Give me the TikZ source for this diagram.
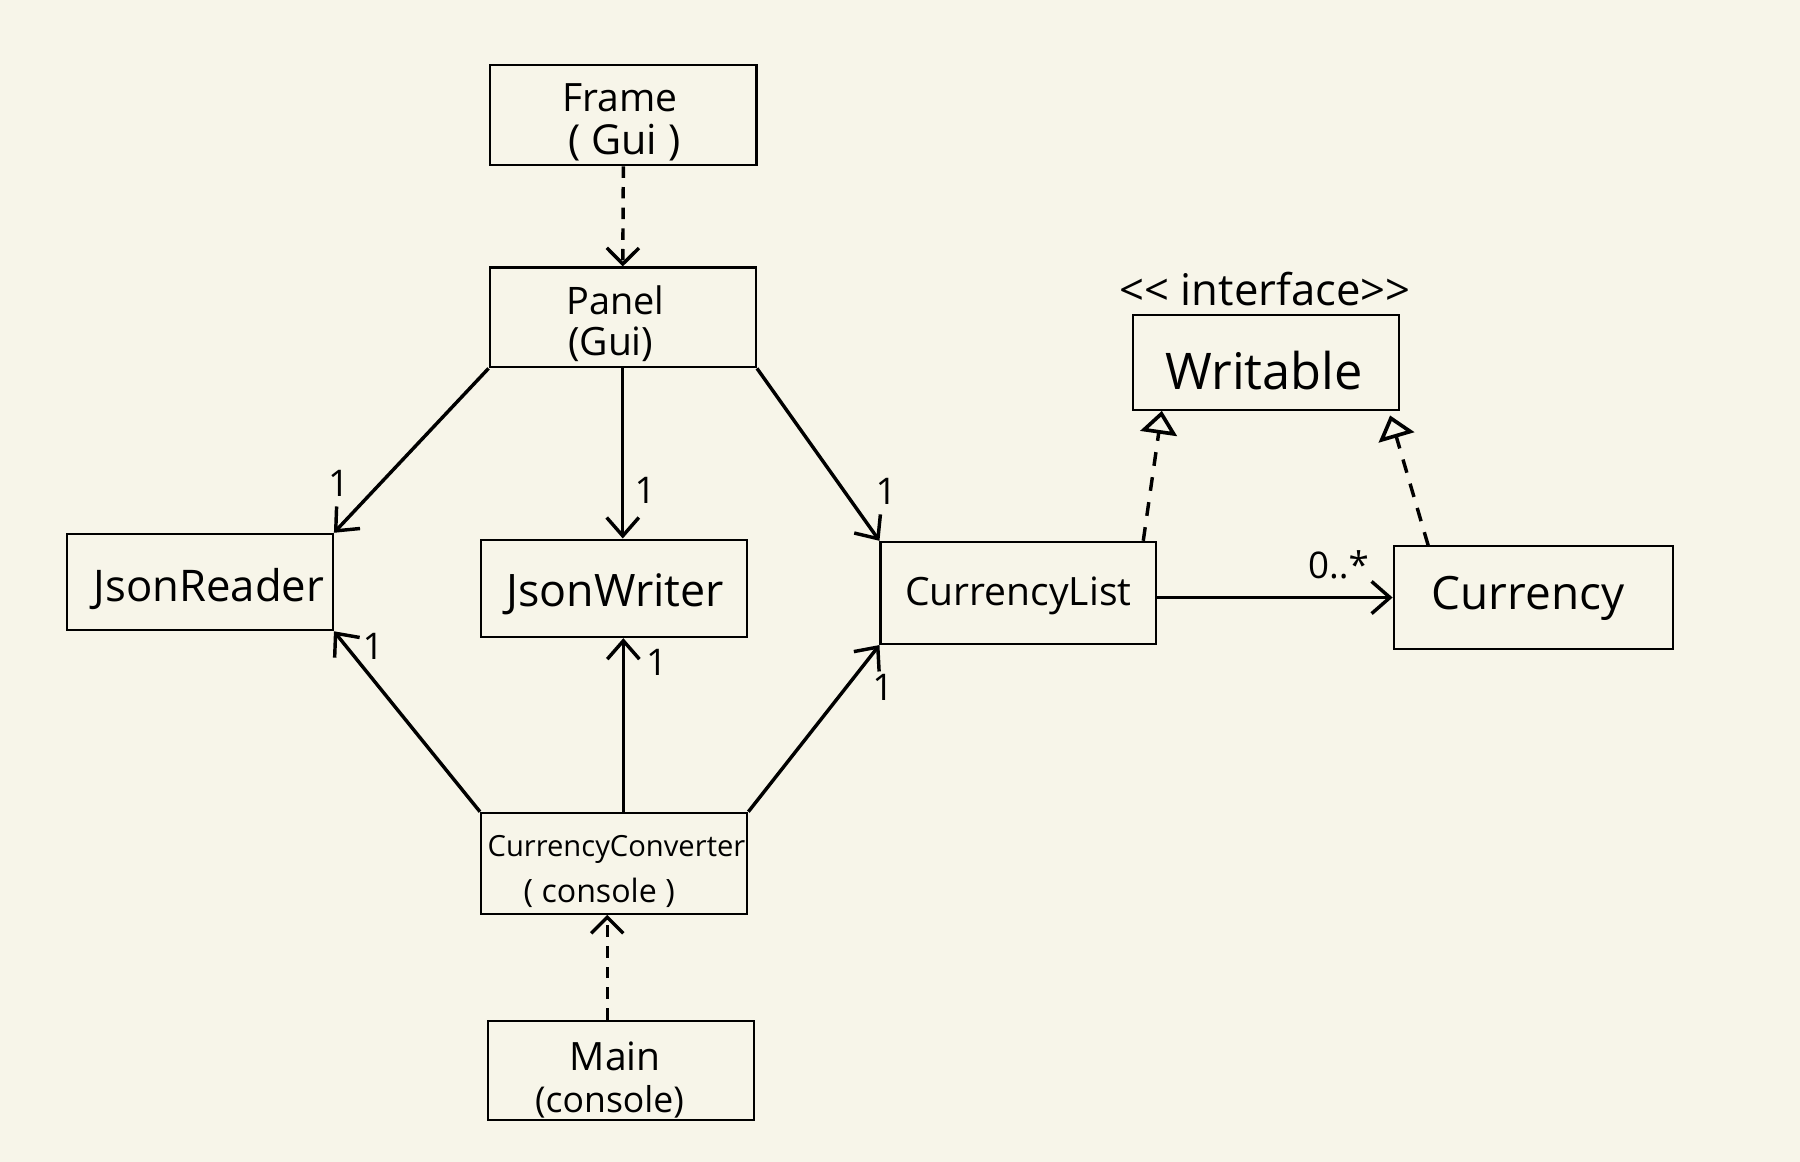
\documentclass[tikz,border=0pt]{standalone}
\usepackage{fontspec}
\setmainfont{Open Sans}
\usetikzlibrary{arrows.meta}
\definecolor{bg}{RGB}{247,245,233}
\newcommand{\fs}[1]{\fontsize{#1}{1.2\dimexpr#1pt\relax}\selectfont}
\begin{document}
\begin{tikzpicture}[x=0.5pt,y=-0.5pt,
  box/.style={draw=black, line width=0.9pt, inner sep=0pt,
    minimum width=116pt, minimum height=43.5pt},
  txt/.style={inner sep=0pt, align=center},
  mult/.style={inner sep=0pt, font=\fs{16}},
  assoc/.style={line width=1.5pt, -{Straight Barb[length=8pt,width=14pt]}},
  dep/.style={line width=1.5pt, dash pattern=on 5pt off 4pt,
    -{Straight Barb[length=7pt,width=14pt]}},
  real/.style={line width=1.5pt, dash pattern=on 6pt off 5pt,
    -{Triangle[open,length=10pt,width=16pt,fill=bg,line width=1.6pt]}}]
\fill[bg] (0,0) rectangle (1568,1012);
\useasboundingbox (0,0) rectangle (1568,1012);

% class boxes
\node[box] (frame) at (543,100.5) {};
\node[box] (panel) at (542.5,276.5) {};
\node[box, minimum height=41.5pt] (writable) at (1103,315.5) {};
\node[box, minimum width=116pt, minimum height=42pt] (jr) at (174,507) {};
\node[box, minimum height=42.5pt] (jw) at (535,512.5) {};
\node[box, minimum width=120pt, minimum height=44.5pt] (cl) at (887,516.5) {};
\node[box, minimum width=121.5pt, minimum height=44.5pt] (cur) at (1335.5,520.5) {};
\node[box, minimum height=44pt] (cc) at (535,752) {};
\node[box] (main) at (541,932.5) {};

% texts
\node[txt, font=\fs{17}] (frame-a) at (540,85) {Frame};
\node[txt, font=\fs{18}] (frame-b) at (544,124) {( Gui )};
\node[txt, font=\fs{16.5}] (panel-a) at (536,262) {Panel};
\node[txt, font=\fs{17}] (panel-b) at (532,300) {(Gui)};
\node[txt, font=\fs{22}] (writable-t) at (1101,323) {Writable};
\node[txt, font=\fs{19}] (stereo) at (1102,252) {<{}< interface>{}>};
\node[txt, font=\fs{19}] (jr-t) at (182,513) {JsonReader};
\node[txt, font=\fs{19.5}] (jw-t) at (536,518) {JsonWriter};
\node[txt, font=\fs{17}] (cl-t) at (887,519) {CurrencyList};
\node[txt, font=\fs{20}] (cur-t) at (1331,521) {Currency};
\node[txt, font=\fs{12.7}] (cc-a) at (537,740) {CurrencyConverter};
\node[txt, font=\fs{14}] (cc-b) at (522,778) {( console )};
\node[txt, font=\fs{17}] (main-a) at (536,920) {Main};
\node[txt, font=\fs{15.5}] (main-b) at (531,960) {(console)};

% dependencies
\draw[dep] (frame.south) -- (panel.north);
\draw[dep] ([xshift=-6pt]main.north) -- ([xshift=-3pt]cc.south);

% associations from Panel
\draw[assoc] (panel.south west) -- (jr.north east);
\draw[assoc] (panel.south) -- (panel.south |- jw.north);
\draw[assoc] (panel.south east) -- (cl.north west);

% associations from CurrencyConverter
\draw[assoc] (cc.north west) -- (jr.south east);
\draw[assoc] ([xshift=4pt]cc.north) -- ([xshift=4pt]cc.north |- jw.south);
\draw[assoc] (cc.north east) -- (cl.south west);

% CurrencyList to Currency
\draw[assoc] ([yshift=-2pt]cl.east) -- ([yshift=-2pt]cl.east -| cur.west);

% realizations
\draw[real] ([xshift=-6pt]cl.north east) -- ([xshift=13pt]writable.south west);
\draw[real] ([xshift=15.5pt]cur.north west) -- ([xshift=-4.5pt,yshift=-2pt]writable.south east);

% multiplicities
\node[mult] (m1) at (295,421) {1};
\node[mult] (m2) at (562,427) {1};
\node[mult] (m3) at (772,428) {1};
\node[mult] (m4) at (325,563) {1};
\node[mult] (m5) at (572,577) {1};
\node[mult] (m6) at (769,599) {1};
\node[mult] (m7) at (1166,492) {0..*};
\end{tikzpicture}
\end{document}
